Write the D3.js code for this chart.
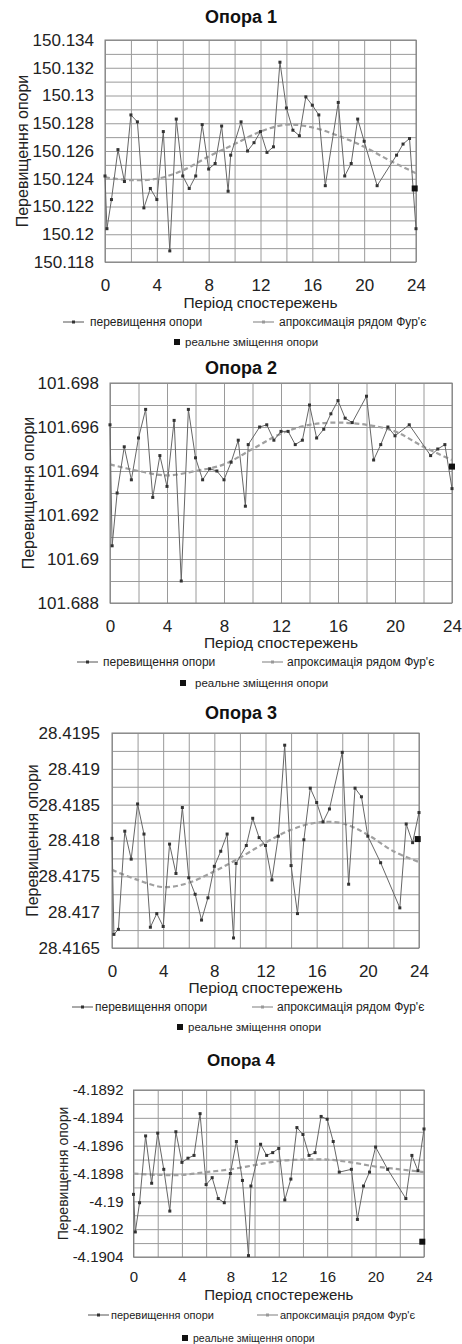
<!DOCTYPE html>
<html>
<head>
<meta charset="utf-8">
<script src="https://cdn.jsdelivr.net/npm/d3@7"></script>
<style>
body { margin: 0; background: #fff; }
svg { display: block; font-family: Arial, "Liberation Sans", sans-serif; }
</style>
</head>
<body>
<script>
// observation moments (same for all four supports)
const times = [0, 0.15, 0.5, 1, 1.5, 2, 2.5, 3, 3.5, 4, 4.5, 5, 5.5, 6, 6.5, 7, 7.5, 8, 8.5, 9, 9.5, 9.7,
  10.5, 11, 11.5, 12, 12.5, 13, 13.5, 14, 14.5, 15, 15.5, 16, 16.5, 17, 18, 18.5, 19, 19.5, 20, 21,
  22.5, 23, 23.5, 24];
const fourierTimes = [0, 2, 4, 6, 8, 10, 12, 14, 16, 18, 20, 22, 24];
const xTicks = [0, 4, 8, 12, 16, 20, 24];

const titles = ["Опора 1", "Опора 2", "Опора 3", "Опора 4"];
const xTitle = "Період спостережень";
const yTitle = "Перевищення опори";
const legendNames = ["перевищення опори", "апроксимація рядом Фур'є", "реальне зміщення опори"];

const opora1 = [150.1242, 150.1204, 150.1225, 150.1261, 150.1238, 150.1286, 150.1281, 150.1219, 150.1233,
  150.1225, 150.1274, 150.1188, 150.1283, 150.1242, 150.1233, 150.1242, 150.1279, 150.1247, 150.1251,
  150.1278, 150.1231, 150.1257, 150.1281, 150.1260, 150.1266, 150.1274, 150.1259, 150.1263, 150.1324,
  150.1291, 150.1275, 150.1271, 150.1299, 150.1293, 150.1286, 150.1235, 150.1295, 150.1242, 150.1251,
  150.1283, 150.1267, 150.1235, 150.1257, 150.1265, 150.1269, 150.1204];
const fourier1 = [150.1241, 150.1239, 150.1240, 150.1246, 150.1256, 150.1265, 150.1274, 150.1279,
  150.1277, 150.1271, 150.1263, 150.1253, 150.1244];
const real1 = [23.9, 150.1233];
const yTicks1 = [150.118, 150.12, 150.122, 150.124, 150.126, 150.128, 150.13, 150.132, 150.134];

const opora2 = [101.6961, 101.6906, 101.6930, 101.6951, 101.6936, 101.6955, 101.6968, 101.6928, 101.6947,
  101.6933, 101.6963, 101.6890, 101.6968, 101.6946, 101.6936, 101.6941, 101.6940, 101.6936, 101.6944,
  101.6954, 101.6924, 101.6952, 101.6960, 101.6961, 101.6954, 101.6958, 101.6958, 101.6952, 101.6954,
  101.6970, 101.6955, 101.6959, 101.6966, 101.6972, 101.6964, 101.6962, 101.6974, 101.6945, 101.6952,
  101.6960, 101.6956, 101.6961, 101.6947, 101.6950, 101.6952, 101.6932];
const fourier2 = [101.6943, 101.6940, 101.6938, 101.6940, 101.6943, 101.6950, 101.6957, 101.6961,
  101.6962, 101.6961, 101.6958, 101.6951, 101.6945];
const real2 = [24, 101.6942];
const yTicks2 = [101.688, 101.69, 101.692, 101.694, 101.696, 101.698];

const opora3 = [28.41803, 28.41669, 28.41676, 28.41813, 28.41774, 28.41851, 28.41809, 28.41679, 28.41698,
  28.41680, 28.41795, 28.41754, 28.41846, 28.41748, 28.41725, 28.41689, 28.41720, 28.41764, 28.41785,
  28.41809, 28.41664, 28.41768, 28.41793, 28.41831, 28.41804, 28.41793, 28.41745, 28.41806, 28.41933,
  28.41765, 28.41698, 28.41801, 28.41873, 28.41853, 28.41826, 28.41844, 28.41923, 28.41739, 28.41873,
  28.41861, 28.41806, 28.41769, 28.41706, 28.41823, 28.41797, 28.41839];
const fourier3 = [28.41759, 28.41745, 28.41735, 28.41741, 28.41757, 28.41776, 28.41797, 28.41815,
  28.41825, 28.41824, 28.41808, 28.41785, 28.41770];
const real3 = [23.9, 28.41802];
const yTicks3 = [28.4165, 28.417, 28.4175, 28.418, 28.4185, 28.419, 28.4195];

const opora4 = [-4.18995, -4.19022, -4.19001, -4.18953, -4.18987, -4.18951, -4.18977, -4.19007, -4.18950,
  -4.18972, -4.18969, -4.18967, -4.18937, -4.18988, -4.18983, -4.18998, -4.19001, -4.18980, -4.18957,
  -4.18985, -4.19039, -4.18989, -4.18959, -4.18967, -4.18965, -4.18962, -4.18999, -4.18984, -4.18947,
  -4.18952, -4.18967, -4.18965, -4.18939, -4.18941, -4.18957, -4.18979, -4.18977, -4.19013, -4.18989,
  -4.18979, -4.18961, -4.18977, -4.18998, -4.18967, -4.18978, -4.18948];
const fourier4 = [-4.18980, -4.18981, -4.18981, -4.18979, -4.18977, -4.18974, -4.18971, -4.18970,
  -4.18970, -4.18972, -4.18975, -4.18977, -4.18979];
const real4 = [23.86, -4.19029];
const yTicks4 = [-4.1904, -4.1902, -4.19, -4.1898, -4.1896, -4.1894, -4.1892];

// layout of each panel (pixel positions)
const panels = [
  { values: opora1, fourier: fourier1, real: real1, yTicks: yTicks1, grid: 16,
    left: 105, right: 416, top: 40, bottom: 262, titleY: 17, titleSize: 18, tickSize: 17,
    yTitleX: 22, yTitleSize: 16, xTitleSize: 15.5, xTickGap: 23, xTitleGap: 41, labelPad: 11,
    leg: { y1: 322, s1: 63, t1: 90, s2: 253, t2: 279, y2: 342, sq: 177, t3: 185, size: 12 } },
  { values: opora2, fourier: fourier2, real: real2, yTicks: yTicks2, grid: 10,
    left: 110, right: 452, top: 383, bottom: 603, titleY: 368, titleSize: 18, tickSize: 17,
    yTitleX: 28, yTitleSize: 16, xTitleSize: 15.5, xTickGap: 23, xTitleGap: 40, labelPad: 11,
    leg: { y1: 662, s1: 77, t1: 103, s2: 262, t2: 287, y2: 683, sq: 183, t3: 195, size: 12 } },
  { values: opora3, fourier: fourier3, real: real3, yTicks: yTicks3, grid: 12,
    left: 112, right: 419, top: 733, bottom: 948, titleY: 713, titleSize: 18, tickSize: 17,
    yTitleX: 32, yTitleSize: 16, xTitleSize: 15.5, xTickGap: 23, xTitleGap: 40, labelPad: 12,
    leg: { y1: 1007, s1: 72, t1: 95, s2: 252, t2: 277, y2: 1027, sq: 180, t3: 188, size: 12 } },
  { values: opora4, fourier: fourier4, real: real4, yTicks: yTicks4, grid: 12,
    left: 133.5, right: 424, top: 1090, bottom: 1257, titleY: 1060, titleSize: 17, tickSize: 15,
    yTitleX: 63, yTitleSize: 14, xTitleSize: 15, xTickGap: 20, xTitleGap: 38, labelPad: 10,
    leg: { y1: 1315, s1: 88, t1: 111, s2: 257, t2: 280, y2: 1338, sq: 185, t3: 193, size: 11 } }
];

const svg = d3.select("body").append("svg")
  .attr("width", 462).attr("height", 1344);

panels.forEach(function (p, i) {
  let g = svg.append("g");
  let x = d3.scaleLinear().domain([0, 24]).range([p.left, p.right]);
  let yDom = d3.extent(p.yTicks);
  let y = d3.scaleLinear().domain(yDom).range([p.bottom, p.top]);
  let w = p.right - p.left, h = p.bottom - p.top;

  // title
  g.append("text").attr("x", 241).attr("y", p.titleY).attr("dy", "0.35em")
    .attr("text-anchor", "middle").attr("font-weight", "bold")
    .attr("font-size", p.titleSize).attr("fill", "#111").text(titles[i]);

  // horizontal grid
  let gridVals = d3.range(p.grid + 1).map(k => yDom[0] + (yDom[1] - yDom[0]) * k / p.grid);
  g.append("g").attr("transform", "translate(" + p.left + ",0)")
    .call(d3.axisLeft(y).tickValues(gridVals).tickSize(-w).tickFormat(""))
    .call(a => a.select(".domain").remove())
    .selectAll("line").attr("stroke", "#9a9a9a");

  // vertical grid
  g.append("g").attr("transform", "translate(0," + p.bottom + ")")
    .call(d3.axisBottom(x).tickValues(d3.range(0, 25, 2)).tickSize(-h).tickFormat(""))
    .call(a => a.select(".domain").remove())
    .selectAll("line").attr("stroke", "#9a9a9a");

  // frame
  g.append("rect").attr("x", p.left).attr("y", p.top).attr("width", w).attr("height", h)
    .attr("fill", "none").attr("stroke", "#808080");

  // y tick labels
  g.append("g").attr("transform", "translate(" + p.left + ",0)")
    .call(d3.axisLeft(y).tickValues(p.yTicks).tickSize(0).tickPadding(p.labelPad)
      .tickFormat(d => String(d)))
    .call(a => a.select(".domain").remove())
    .selectAll("text").attr("font-size", p.tickSize).attr("fill", "#222")
    .attr("font-family", "Arial, 'Liberation Sans', sans-serif");

  // x tick labels
  g.append("g").attr("transform", "translate(0," + p.bottom + ")")
    .call(d3.axisBottom(x).tickValues(xTicks).tickSize(0).tickPadding(0).tickFormat(d3.format("d")))
    .call(a => a.select(".domain").remove())
    .selectAll("text").attr("y", p.xTickGap).attr("dy", "0.35em")
    .attr("font-size", p.tickSize).attr("fill", "#222")
    .attr("font-family", "Arial, 'Liberation Sans', sans-serif");

  // axis titles
  g.append("text").attr("x", (p.left + p.right) / 2).attr("y", p.bottom + p.xTitleGap)
    .attr("dy", "0.35em").attr("text-anchor", "middle")
    .attr("font-size", p.xTitleSize).attr("fill", "#222").text(xTitle);
  g.append("text")
    .attr("transform", "translate(" + p.yTitleX + "," + (p.top + p.bottom) / 2 + ") rotate(-90)")
    .attr("dy", "0.35em").attr("text-anchor", "middle")
    .attr("font-size", p.yTitleSize).attr("fill", "#222").text(yTitle);

  // fourier approximation
  let fData = fourierTimes.map((t, k) => [t, p.fourier[k]]);
  g.append("path").datum(fData)
    .attr("d", d3.line().x(d => x(d[0])).y(d => y(d[1])).curve(d3.curveCardinal))
    .attr("fill", "none").attr("stroke", "#a0a0a0").attr("stroke-width", 2.2)
    .attr("stroke-dasharray", "5,3");

  // observed series
  let oData = times.map((t, k) => [t, p.values[k]]);
  g.append("path").datum(oData)
    .attr("d", d3.line().x(d => x(d[0])).y(d => y(d[1])))
    .attr("fill", "none").attr("stroke", "#666").attr("stroke-width", 1);
  g.selectAll(".pt").data(oData).enter().append("rect")
    .attr("x", d => x(d[0]) - 1.5).attr("y", d => y(d[1]) - 1.5)
    .attr("width", 3).attr("height", 3).attr("fill", "#333");

  // real displacement
  g.append("rect").attr("x", x(p.real[0]) - 3).attr("y", y(p.real[1]) - 3)
    .attr("width", 6).attr("height", 6).attr("fill", "#111");

  // legend
  let L = p.leg;
  g.append("line").attr("x1", L.s1).attr("x2", L.s1 + 21).attr("y1", L.y1).attr("y2", L.y1)
    .attr("stroke", "#555");
  g.append("rect").attr("x", L.s1 + 9).attr("y", L.y1 - 1.5).attr("width", 3).attr("height", 3)
    .attr("fill", "#333");
  g.append("text").attr("x", L.t1).attr("y", L.y1).attr("dy", "0.35em")
    .attr("font-size", L.size).attr("fill", "#222").text(legendNames[0]);
  g.append("line").attr("x1", L.s2).attr("x2", L.s2 + 21).attr("y1", L.y1).attr("y2", L.y1)
    .attr("stroke", "#a8a8a8").attr("stroke-width", 1.5);
  g.append("rect").attr("x", L.s2 + 9).attr("y", L.y1 - 1.5).attr("width", 3).attr("height", 3)
    .attr("fill", "#999");
  g.append("text").attr("x", L.t2).attr("y", L.y1).attr("dy", "0.35em")
    .attr("font-size", L.size).attr("fill", "#222").text(legendNames[1]);
  g.append("rect").attr("x", L.sq - 3).attr("y", L.y2 - 3).attr("width", 6).attr("height", 6)
    .attr("fill", "#111");
  g.append("text").attr("x", L.t3).attr("y", L.y2).attr("dy", "0.35em")
    .attr("font-size", L.size - 0.5).attr("fill", "#222").text(legendNames[2]);
});
</script>
</body>
</html>
